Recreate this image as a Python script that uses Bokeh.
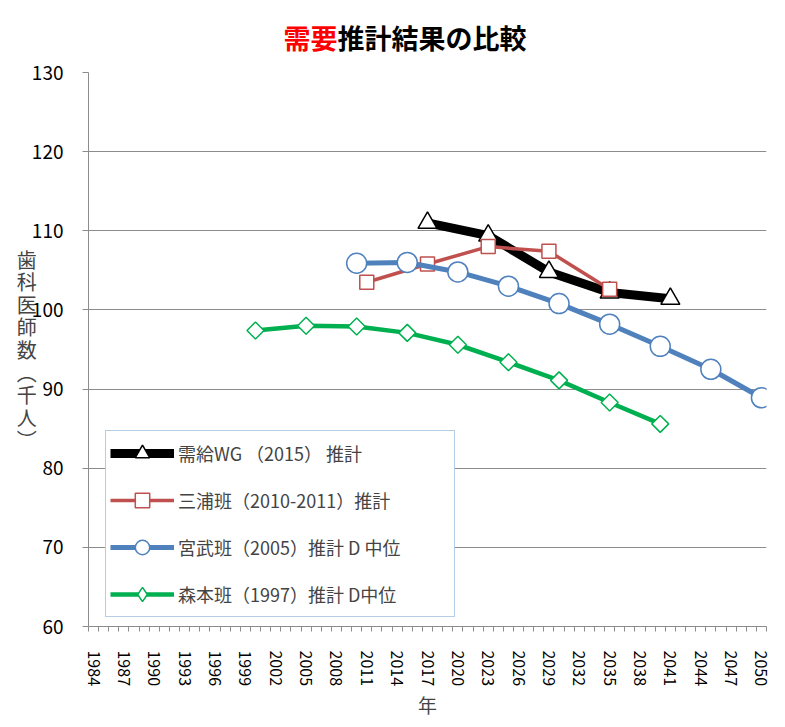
import math
from bokeh.plotting import figure
from bokeh.layouts import column
from bokeh.models import Range1d, FixedTicker, Legend, LegendItem
from bokeh.core.properties import value
from bokeh.embed import file_html
from bokeh.resources import INLINE

# ---- data ----
years_wg = [2017, 2023, 2029, 2035, 2041]
vals_wg = [111.0, 109.4, 104.8, 102.2, 101.4]

years_miura = [2011, 2017, 2023, 2029, 2035]
vals_miura = [103.5, 105.8, 108.0, 107.4, 102.6]

years_miyatake = [2010, 2015, 2020, 2025, 2030, 2035, 2040, 2045, 2050]
vals_miyatake = [105.9, 106.0, 104.8, 103.0, 100.8, 98.2, 95.4, 92.5, 88.9]

years_morimoto = [2000, 2005, 2010, 2015, 2020, 2025, 2030, 2035, 2040]
vals_morimoto = [97.4, 98.0, 97.9, 97.1, 95.6, 93.4, 91.1, 88.3, 85.6]

labels = ["需給WG （2015） 推計",
          "三浦班（2010-2011）推計",
          "宮武班（2005）推計 D 中位",
          "森本班（1997）推計 D中位"]

year_ticks = list(range(1984, 2051, 3))
y_ticks = list(range(60, 131, 10))

title_red = "需要"
title_black = "推計結果の比較"
y_label = "歯\n科\n医\n師\n数\n︵\n千\n人\n︶"
x_label = "年"

JP = "Noto Sans CJK JP"
GRAY = "#8c8c8c"
RED = "#C0504D"
BLUE = "#4F81BD"
GREEN = "#00B050"

LEFT = 88
FW = 678
RIGHT = 14
TITLE_H = 57

# ---- title strip (frames are aligned with the chart below) ----
tf = figure(frame_width=FW, frame_height=TITLE_H,
            min_border_left=LEFT, min_border_right=RIGHT,
            min_border_top=0, min_border_bottom=0,
            x_range=Range1d(LEFT, LEFT + FW), y_range=Range1d(TITLE_H, 0),
            output_backend="svg", toolbar_location=None)
tf.axis.visible = False
tf.grid.visible = False
tf.outline_line_color = None
TS = 27
tf.text(x=[283], y=[36.5], text=[title_red], text_color="#FF0000",
        text_font=value(JP), text_font_style="bold", text_font_size=f"{TS}px",
        text_baseline="middle", text_align="left")
tf.text(x=[283 + 2 * TS], y=[36.5], text=[title_black], text_color="black",
        text_font=value(JP), text_font_style="bold", text_font_size=f"{TS}px",
        text_baseline="middle", text_align="left")

# ---- main chart ----
p = figure(frame_width=FW, frame_height=554,
           min_border_left=LEFT, min_border_right=RIGHT,
           min_border_top=72 - TITLE_H, min_border_bottom=99,
           x_range=Range1d(1983.5, 2050.5), y_range=Range1d(60, 130),
           output_backend="svg", toolbar_location=None)
p.outline_line_color = None
p.background_fill_color = "white"
p.border_fill_color = "white"

p.xgrid.grid_line_color = None
p.ygrid.grid_line_color = GRAY
p.ygrid.grid_line_width = 1

p.xaxis.ticker = FixedTicker(ticks=year_ticks,
                             minor_ticks=[y - 0.5 for y in range(1984, 2052)])
p.xaxis.major_tick_out = 0
p.xaxis.major_tick_in = 0
p.xaxis.minor_tick_out = 5
p.xaxis.minor_tick_in = 0
p.xaxis.minor_tick_line_color = GRAY
p.xaxis.axis_line_color = GRAY
p.xaxis.major_label_orientation = "vertical"
p.xaxis.major_label_standoff = 19
p.xaxis.major_label_text_font = JP
p.xaxis.major_label_text_font_size = "16px"
p.xaxis.major_label_text_color = "black"
p.xaxis.axis_label = x_label
p.xaxis.axis_label_text_font = JP
p.xaxis.axis_label_text_font_size = "19px"
p.xaxis.axis_label_text_font_style = "normal"
p.xaxis.axis_label_standoff = 2

p.yaxis.ticker = FixedTicker(ticks=y_ticks, minor_ticks=[])
p.yaxis.major_tick_out = 6
p.yaxis.major_tick_in = 0
p.yaxis.major_tick_line_color = GRAY
p.yaxis.axis_line_color = GRAY
p.yaxis.major_label_standoff = 19
p.yaxis.major_label_text_font = JP
p.yaxis.major_label_text_font_size = "19px"
p.yaxis.major_label_text_color = "black"
p.yaxis.axis_label = y_label
p.yaxis.axis_label_orientation = "horizontal"
p.yaxis.axis_label_text_font = JP
p.yaxis.axis_label_text_font_size = "20px"
p.yaxis.axis_label_text_font_style = "normal"
p.yaxis.axis_label_text_line_height = 0.78
p.yaxis.axis_label_standoff = -8

l1 = p.line(years_wg, vals_wg, line_color="black", line_width=9)
m1 = p.scatter(years_wg, vals_wg, marker="triangle", size=19,
               fill_color="white", line_color="black", line_width=1.5)

l2 = p.line(years_miura, vals_miura, line_color=RED, line_width=3.5)
m2 = p.scatter(years_miura, vals_miura, marker="square", size=14,
               fill_color="white", line_color=RED, line_width=1.5)

l3 = p.line(years_miyatake, vals_miyatake, line_color=BLUE, line_width=5)
m3 = p.scatter(years_miyatake, vals_miyatake, marker="circle", size=20,
               fill_color="white", line_color=BLUE, line_width=1.5)

l4 = p.line(years_morimoto, vals_morimoto, line_color=GREEN, line_width=4.5)
m4 = p.scatter(years_morimoto, vals_morimoto, marker="square", angle=math.pi / 4,
               size=12, fill_color="white", line_color=GREEN, line_width=1.5)
# hidden twin used only for the legend swatch (legend swatches ignore angle)
m4_leg = p.scatter(years_morimoto, vals_morimoto, marker="diamond",
                   fill_color="white", line_color=GREEN, line_width=1.5,
                   visible=False)

legend = Legend(items=[
    LegendItem(label=labels[0], renderers=[l1, m1]),
    LegendItem(label=labels[1], renderers=[l2, m2]),
    LegendItem(label=labels[2], renderers=[l3, m3]),
    LegendItem(label=labels[3], renderers=[l4, m4_leg]),
], location=(17, 9))
legend.label_text_font = JP
legend.label_text_font_size = "18px"
legend.glyph_width = 64
legend.glyph_height = 36
legend.label_height = 36
legend.label_width = 272
legend.spacing = 11
legend.padding = 4
legend.margin = 0
legend.label_standoff = 4
legend.border_line_color = "#6E9BD2"
legend.border_line_width = 1.5
legend.background_fill_color = "white"
legend.background_fill_alpha = 1
legend.inactive_fill_alpha = 0
p.add_layout(legend, "center")

layout = column(tf, p, spacing=0)
open("out.html", "w").write(file_html(layout, INLINE))
